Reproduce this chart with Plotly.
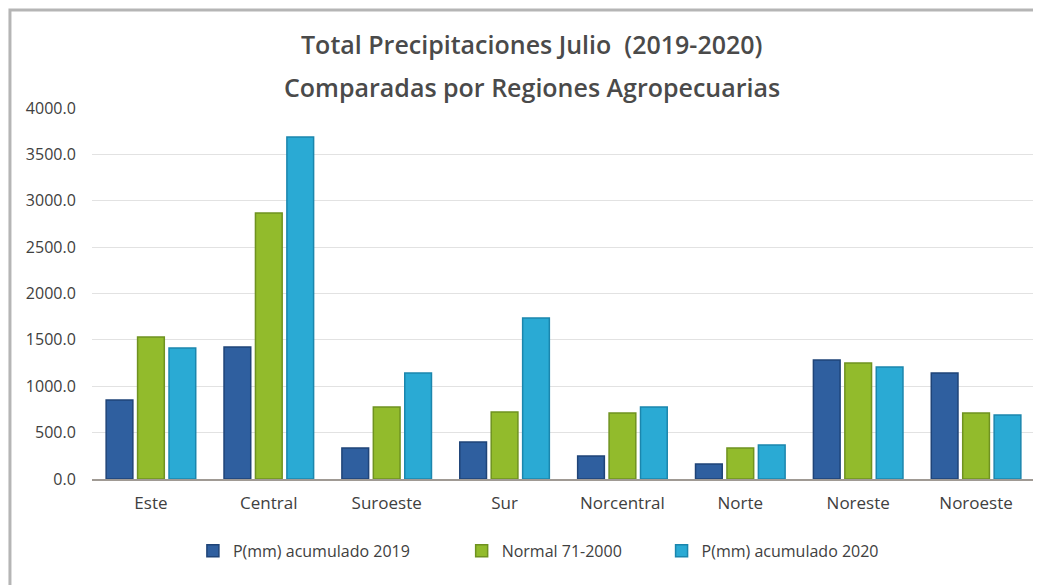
import plotly.graph_objects as go

regiones = ["Este", "Central", "Suroeste", "Sur", "Norcentral", "Norte", "Noreste", "Noroeste"]
acum_2019 = [852, 1423, 334, 399, 248, 162, 1283, 1143]
normal_71_2000 = [1531, 2868, 776, 722, 712, 334, 1251, 712]
acum_2020 = [1412, 3687, 1143, 1736, 776, 367, 1208, 690]

series = [
    ("P(mm) acumulado 2019", acum_2019, "#2f5f9f", "#1f4478", "legend", 0.107),
    ("Normal 71-2000", normal_71_2000, "#92bb2c", "#6f9220", "legend2", 0.392),
    ("P(mm) acumulado 2020", acum_2020, "#2aaad4", "#1b86ad", "legend3", 0.604),
]

fig = go.Figure()
legends = {}
for name, vals, col, edge, leg, lx in series:
    fig.add_trace(go.Bar(
        x=regiones, y=vals, name=name, legend=leg,
        marker=dict(color=col, line=dict(color=edge, width=1.5)),
    ))
    # one legend per series so the spacing can follow the original
    legends[leg] = dict(
        orientation="h", x=lx, xanchor="left", y=-0.194, yanchor="middle",
        font=dict(size=16, color="#404040"),
    )

# page body adds ~8px offset, margins compensate
fig.update_layout(
    width=1041, height=585,
    paper_bgcolor="white", plot_bgcolor="white",
    margin=dict(l=84, r=14, t=100, b=114),
    font=dict(family="Open Sans, Liberation Sans, sans-serif", color="#404040", size=12),
    barmode="group", bargap=0.2, bargroupgap=0.15,
    showlegend=True,
    annotations=[
        dict(text="Total Precipitaciones Julio  (2019-2020)", xref="paper", yref="paper",
             x=0.467, y=1.1725, xanchor="center", yanchor="middle", showarrow=False,
             font=dict(size=25, color="#4a4a4a", weight=600)),
        dict(text="Comparadas por Regiones Agropecuarias", xref="paper", yref="paper",
             x=0.467, y=1.0566, xanchor="center", yanchor="middle", showarrow=False,
             font=dict(size=25, color="#4a4a4a", weight=600)),
    ],
    shapes=[dict(
        type="rect", xref="paper", yref="paper",
        x0=-0.087, x1=1.0085, y0=-0.32, y1=1.264,
        line=dict(color="#b5b5b5", width=3),
    )],
    **legends,
)
fig.update_yaxes(
    range=[0, 4000], dtick=500, tickformat=".1f",
    showgrid=True, gridcolor="#e2e2e2", zeroline=False,
    ticks="outside", ticklen=12, tickcolor="rgba(0,0,0,0)",
    tickfont=dict(size=16, color="#404040"),
)
fig.update_xaxes(
    showline=True, linecolor="#a09a94", linewidth=2,
    ticks="outside", ticklen=8, tickcolor="rgba(0,0,0,0)",
    tickfont=dict(size=17, color="#404040"),
)

fig.write_html("out.html")
